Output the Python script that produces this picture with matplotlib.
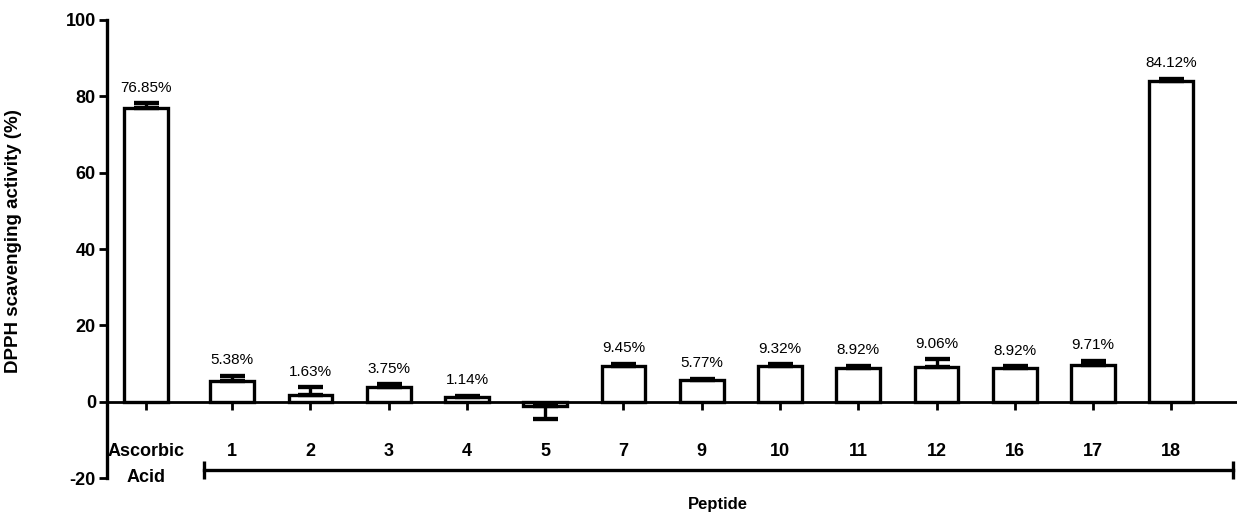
import matplotlib

matplotlib.use("Agg")
import matplotlib.pyplot as plt

plt.rcParams["font.family"] = ["Liberation Sans", "DejaVu Sans"]
plt.rcParams["axes.unicode_minus"] = False

# DPPH radical scavenging, mean and SD per sample
samples = ["Ascorbic\nAcid", "1", "2", "3", "4", "5", "7", "9", "10", "11", "12", "16", "17", "18"]
activity = [76.85, 5.38, 1.63, 3.75, 1.14, -1.1, 9.45, 5.77, 9.32, 8.92, 9.06, 8.92, 9.71, 84.12]
sd = [1.3, 1.4, 2.1, 0.8, 0.4, 3.5, 0.5, 0.3, 0.5, 0.5, 2.0, 0.3, 1.0, 0.5]
shown = ["76.85%", "5.38%", "1.63%", "3.75%", "1.14%", "", "9.45%", "5.77%",
         "9.32%", "8.92%", "9.06%", "8.92%", "9.71%", "84.12%"]

# control sits a little apart from the peptides
xpos = [-0.1] + list(range(1, len(samples)))

fig = plt.figure(figsize=(12.37, 5.18), dpi=100)
ax = fig.add_axes([0.0865, 0.0772, 0.9135, 0.8842])

lw = 2.4
ax.bar(xpos, activity, width=0.56, color="white", edgecolor="black", linewidth=lw, zorder=2)

for x, v, e in zip(xpos, activity, sd):
    lo, hi = (0, e) if v >= 0 else (e, 0)
    ax.errorbar(x, v, yerr=[[lo], [hi]], fmt="none", ecolor="black",
                elinewidth=lw, capsize=9, capthick=lw * 1.3, zorder=3)

for x, v, e, s in zip(xpos, activity, sd, shown):
    if s:
        ax.annotate(s, (x, v + e), xytext=(0, 6), textcoords="offset points",
                    ha="center", va="bottom", fontsize=11, fontweight="medium")

ax.set_xlim(-0.6, 13.84)
ax.set_ylim(-20, 100)
ax.set_yticks([-20, 0, 20, 40, 60, 80, 100])
ax.set_xticks(xpos)
ax.set_xticklabels(samples)

ax.spines["top"].set_visible(False)
ax.spines["right"].set_visible(False)
ax.spines["bottom"].set_position(("data", 0))
ax.spines["bottom"].set_linewidth(2)
ax.spines["left"].set_linewidth(2.4)
ax.tick_params(axis="y", width=2, length=6, pad=2, labelsize=13)
ax.tick_params(axis="x", width=2, length=6, pad=24, labelsize=13)

for lab in ax.get_xticklabels() + ax.get_yticklabels():
    lab.set_fontweight("bold")
for lab in ax.get_xticklabels():
    lab.set_linespacing(1.65)

ax.set_ylabel("DPPH scavenging activity (%)", fontsize=13.5, fontweight="bold")
ax.yaxis.set_label_coords(-0.075, 0.517)

# bracket under the peptide group
ax.plot([0.64, 13.79], [-17.8, -17.8], color="black", linewidth=2.4, clip_on=False)
ax.plot([0.64, 13.79], [-17.8, -17.8], color="black", linestyle="none", marker="|",
        markersize=13, markeredgewidth=2.4, clip_on=False)
fig.text(718 / 1237, 1 - 505 / 518, "Peptide", ha="center", va="center",
         fontsize=12, fontweight="bold")

fig.savefig("out.png", dpi=100)
